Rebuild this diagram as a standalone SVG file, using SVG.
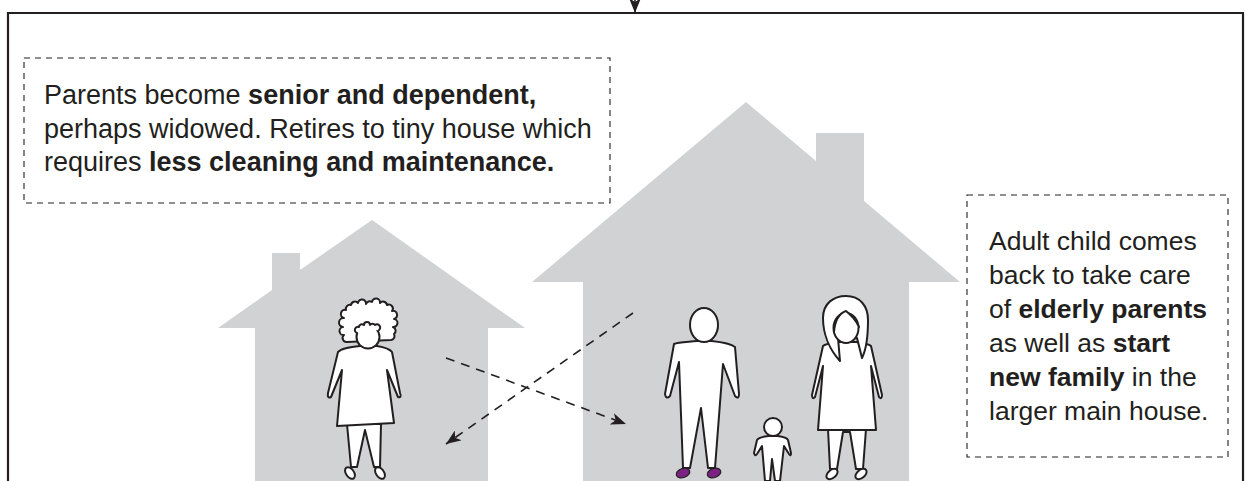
<svg xmlns="http://www.w3.org/2000/svg" width="1246" height="481" viewBox="0 0 1246 481">
  <defs>
    <style>
      .house { fill: #d1d2d4; }
      .frame { fill: none; stroke: #231f20; stroke-width: 2.2; }
      .note { fill: none; stroke: #231f20; stroke-width: 1.1; stroke-dasharray: 6 5; }
      .txt { font-family: "Liberation Sans", Arial, sans-serif; font-size: 27px; fill: #231f20; }
      .txt-r { font-size: 26.5px; }
      .b { font-weight: bold; }
      .fig { fill: #fff; stroke: #231f20; stroke-width: 2; stroke-linejoin: round; stroke-linecap: round; }
      .shoe { fill: #7b2383; stroke: #231f20; stroke-width: 1.2; }
      .flow { fill: none; stroke: #231f20; stroke-width: 1.6; stroke-dasharray: 9 7; }
    </style>
    <marker id="ah" markerUnits="userSpaceOnUse" markerWidth="16" markerHeight="12" refX="15" refY="6" orient="auto">
      <path d="M0,0 L15,6 L0,12 L4,6 Z" fill="#231f20"/>
    </marker>
  </defs>

  <!-- outer frame -->
  <g id="frame">
    <path class="frame" d="M8,481 V13 H1243 V481"/>
  </g>

  <!-- small house -->
  <g id="small-house">
    <path class="house" d="M372,220 L525,328 L488,328 L488,481 L255,481 L255,328 L218,328 L272,290 L272,253 L300,253 L300,270 Z"/>
  </g>

  <!-- main house -->
  <g id="main-house">
    <path class="house" d="M746,102 L816,161 L816,133 L864,133 L864,201 L960,282 L909,282 L909,481 L583,481 L583,282 L532,282 Z"/>
  </g>

  <!-- notes -->
  <g id="note-parents">
    <rect class="note" x="24" y="58" width="586" height="145"/>
    <text class="txt" x="44" y="104">Parents become <tspan class="b">senior and dependent,</tspan></text>
    <text class="txt" x="44" y="138">perhaps widowed. Retires to tiny house which</text>
    <text class="txt" x="44" y="171">requires <tspan class="b">less cleaning and maintenance.</tspan></text>
  </g>

  <g id="note-child">
    <rect class="note" x="967" y="195" width="261" height="262"/>
    <text class="txt txt-r" x="989" y="250">Adult child comes</text>
    <text class="txt txt-r" x="989" y="284">back to take care</text>
    <text class="txt txt-r" x="989" y="318">of <tspan class="b">elderly parents</tspan></text>
    <text class="txt txt-r" x="989" y="352">as well as <tspan class="b">start</tspan></text>
    <text class="txt txt-r" x="989" y="386"><tspan class="b">new family</tspan> in the</text>
    <text class="txt txt-r" x="989" y="420">larger main house.</text>
  </g>

  <!-- elderly parent -->
  <g id="parent">
    <path class="fig" d="M347,424 L351,467 L357,467 L365,430 L374,467 L380,467 L381,424 Z"/>
    <ellipse class="fig" cx="350" cy="473" rx="4" ry="6.5" transform="rotate(-35 350 473)"/>
    <ellipse class="fig" cx="380" cy="473" rx="4" ry="6.5" transform="rotate(-35 380 473)"/>
    <path class="fig" d="M360,346 C350,347 342,348 338,352 L328,393 Q327,399 331,397 L342,370 L337,426 L394,423 L387,370 L398,397 Q402,398 400,393 L392,352 C389,348 383,347 377,346 Z"/>
    <path class="fig" d="M347,342 A4,4 0 0 1 344,335 A4,4 0 0 1 343,327 A4,4 0 0 1 344,318 A4,4 0 0 1 346,310 A4,4 0 0 1 351,305 A4,4 0 0 1 358,303 A4,4 0 0 1 366,304 A4,4 0 0 1 372,302 A4,4 0 0 1 380,303 A4,4 0 0 1 387,305 A4,4 0 0 1 392,311 A4,4 0 0 1 394,319 A4,4 0 0 1 393,327 A4,4 0 0 1 394,334 A4,4 0 0 1 391,340 Z"/>
    <ellipse class="fig" cx="368" cy="337" rx="11.5" ry="11.5"/>
    <path class="fig" d="M357,333 A3,3 0 0 1 359,327 A3,3 0 0 1 364,325 A3,3 0 0 1 370,325 A3,3 0 0 1 375,325 A3,3 0 0 1 379,330"/>
  </g>

  <!-- adult child -->
  <g id="adult-child">
    <path class="fig" d="M697,341 C688,342 678,342 674,344 L665,394 Q666,400 670,396 L679,362 L683,468 L690,468 L701,408 L708,468 L715,468 L723,364 L735,396 Q739,400 739,394 L735,347 C730,343 720,342 711,341 Z"/>
    <ellipse class="fig" cx="704" cy="325" rx="14" ry="17"/>
    <ellipse class="shoe" cx="683" cy="473" rx="7" ry="4.5" transform="rotate(-20 683 473)"/>
    <ellipse class="shoe" cx="714" cy="473" rx="7" ry="4.5" transform="rotate(-20 714 473)"/>
  </g>

  <!-- grandchild -->
  <g id="grandchild">
    <path class="fig" d="M768,436 C763,437 759,437 757,440 L754,453 Q755,457 757,454 L762,446 L765,481 L770,481 L772,459 L775,481 L780,481 L784,446 L789,454 Q791,457 791,453 L788,440 C786,437 782,437 778,436 Z"/>
    <circle class="fig" cx="773" cy="427" r="9"/>
  </g>

  <!-- partner -->
  <g id="partner">
    <path class="fig" d="M828,429 L830,469 L837,469 L843,432 L850,432 L856,469 L863,469 L866,429 Z"/>
    <ellipse class="fig" cx="832" cy="474" rx="4" ry="6.5" transform="rotate(50 832 474)"/>
    <ellipse class="fig" cx="861" cy="474" rx="4" ry="6.5" transform="rotate(50 861 474)"/>
    <path class="fig" d="M838,342 C830,343 825,344 823,346 L812,395 Q812,400 815,397 L823,366 L818,430 L876,430 L871,366 L879,397 Q882,400 882,395 L871,346 C869,344 864,343 856,342 Z"/>
    <path class="fig" d="M840,361 C829,349 823,333 823,318 C823,303 834,296 846,296 C860,296 868,306 868,320 C868,336 866,350 862,358 L857,338 L838,338 Z"/>
    <ellipse class="fig" cx="846" cy="328" rx="12.5" ry="15"/>
    <path class="fig" d="M834,332 C835,320 840,313 846,311 C851,315 856,320 859,327"/>
  </g>

  <!-- moves between the houses -->
  <g id="connectors">
    <line x1="635" y1="0" x2="635" y2="13" stroke="#231f20" stroke-width="1.6" marker-end="url(#ah)"/>
    <line class="flow" x1="446" y1="358" x2="626" y2="424" marker-end="url(#ah)"/>
    <line class="flow" x1="633" y1="313" x2="446" y2="444" marker-end="url(#ah)"/>
  </g>
</svg>
